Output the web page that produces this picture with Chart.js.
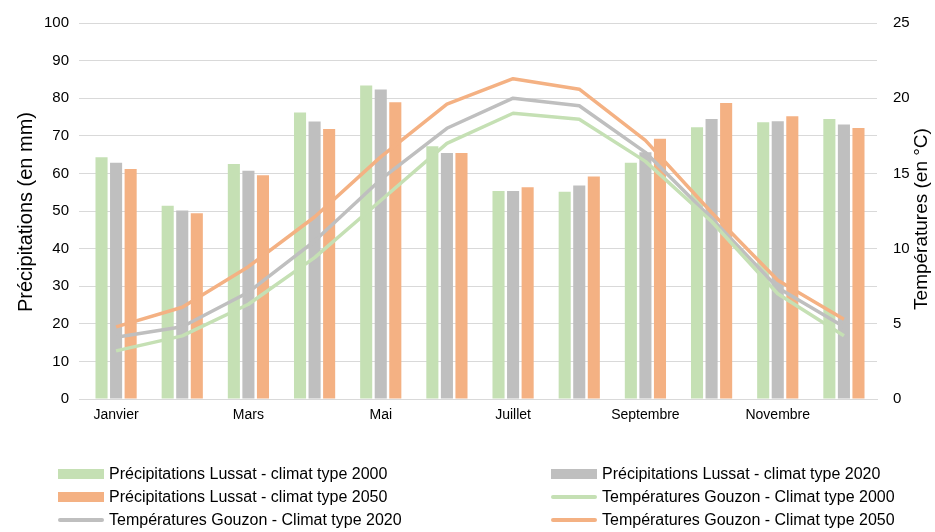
<!DOCTYPE html>
<html lang="fr">
<head>
<meta charset="utf-8">
<script src="https://cdn.jsdelivr.net/npm/chart.js@4"></script>
<style>
  html, body { margin: 0; padding: 0; background: #fff; }
  #wrap { position: relative; width: 935px; height: 532px; }
  #c { position: absolute; left: 0; top: 0; }
  #legend { position: absolute; left: 0; top: 463px; width: 935px; font-family: "Liberation Sans", Arial, sans-serif; font-size: 16px; color: #000; }
  .item { position: absolute; height: 22px; display: flex; align-items: center; white-space: nowrap; }
  .sw { display: inline-block; width: 46px; margin-right: 5px; }
</style>
</head>
<body>
<div id="wrap">
  <canvas id="c" width="935" height="532"></canvas>
  <div id="legend"></div>
</div>
<script>
// Monthly categories
const months = ['Janvier', 'Février', 'Mars', 'Avril', 'Mai', 'Juin', 'Juillet', 'Août', 'Septembre', 'Octobre', 'Novembre', 'Décembre'];

// Précipitations Lussat (mm)
const precip2000 = [64.3, 51.4, 62.5, 76.2, 83.4, 67.2, 55.3, 55.1, 62.8, 72.3, 73.6, 74.5];
const precip2020 = [62.8, 50.1, 60.7, 73.8, 82.3, 65.4, 55.3, 56.8, 65.6, 74.5, 73.9, 73.0];
const precip2050 = [61.2, 49.4, 59.5, 71.8, 78.9, 65.4, 56.3, 59.2, 69.2, 78.7, 75.2, 72.1];

// Températures Gouzon (°C)
const temp2000 = [3.2, 4.2, 6.3, 9.4, 13.2, 17.0, 19.0, 18.6, 15.8, 11.8, 7.0, 4.2];
const temp2020 = [4.1, 4.8, 7.1, 10.5, 14.6, 18.0, 20.0, 19.5, 16.4, 12.0, 7.4, 4.8];
const temp2050 = [4.8, 6.1, 8.8, 12.1, 16.1, 19.6, 21.3, 20.6, 17.2, 12.4, 7.9, 5.3];

// Axis tick bounds
const precipTicks = { min: 0, max: 100, step: 10 };
const tempTicks = { min: 0, max: 25, step: 5 };

const GREEN = '#C5E0B4';
const GREY = '#BFBFBF';
const ORANGE = '#F4B183';
const FONT = "'Liberation Sans', Arial, sans-serif";

function barSet(label, data, color) {
  return { type: 'bar', label, data, backgroundColor: color, borderWidth: 0, yAxisID: 'y', order: 2,
           categoryPercentage: 0.66, barPercentage: 0.83 };
}
function lineSet(label, data, color) {
  return { type: 'line', label, data, borderColor: color, backgroundColor: color, borderWidth: 3.5,
           pointRadius: 0, tension: 0, yAxisID: 'y1', order: 1, borderJoinStyle: 'round' };
}

const datasets = [
  barSet('Précipitations Lussat - climat type 2000', precip2000, GREEN),
  barSet('Précipitations Lussat - climat type 2020', precip2020, GREY),
  barSet('Précipitations Lussat - climat type 2050', precip2050, ORANGE),
  lineSet('Températures Gouzon - Climat type 2000', temp2000, GREEN),
  lineSet('Températures Gouzon - Climat type 2020', temp2020, GREY),
  lineSet('Températures Gouzon - Climat type 2050', temp2050, ORANGE)
];

// Both axis titles read bottom-to-top
const axisTitles = {
  id: 'axisTitles',
  afterDraw(chart) {
    const { ctx, chartArea } = chart;
    const midY = (chartArea.top + chartArea.bottom) / 2;
    const draw = (text, x, y, size) => {
      ctx.save();
      ctx.translate(x, y);
      ctx.rotate(-Math.PI / 2);
      ctx.font = size + 'px ' + FONT;
      ctx.fillStyle = '#000';
      ctx.textAlign = 'center';
      ctx.textBaseline = 'middle';
      ctx.fillText(text, 0, 0);
      ctx.restore();
    };
    draw('Précipitations (en mm)', 26, midY + 1, 20);
    draw('Températures (en °C)', 922, midY + 8, 19);
  }
};

const chart = new Chart(document.getElementById('c'), {
  data: { labels: months, datasets },
  plugins: [axisTitles],
  options: {
    responsive: false,
    animation: false,
    layout: { padding: { top: 23, bottom: 100, left: 0, right: 0 } },
    plugins: { legend: { display: false }, tooltip: { enabled: false } },
    scales: {
      x: {
        grid: { display: false, drawTicks: false },
        border: { color: '#D9D9D9', width: 1 },
        ticks: {
          autoSkip: false, maxRotation: 0, padding: 8,
          color: '#000', font: { family: FONT, size: 14 },
          callback: (v, i) => (i % 2 === 0 ? months[i] : '')
        },
        afterFit: s => { s.height = 33; }
      },
      y: {
        position: 'left',
        min: precipTicks.min, max: precipTicks.max,
        ticks: { stepSize: precipTicks.step, color: '#000', padding: 10, font: { family: FONT, size: 15 } },
        grid: { color: '#D9D9D9', tickLength: 4, tickColor: '#D9D9D9' },
        border: { display: false },
        afterFit: s => { s.width = 83; }
      },
      y1: {
        position: 'right',
        min: tempTicks.min, max: tempTicks.max,
        ticks: { stepSize: tempTicks.step, color: '#000', padding: 12, font: { family: FONT, size: 15 } },
        grid: { display: false, drawOnChartArea: false, tickLength: 4 },
        border: { display: false },
        afterFit: s => { s.width = 58; }
      }
    }
  }
});

// Two-column legend built from the chart's datasets
const legend = document.getElementById('legend');
const colX = [58, 551];
chart.data.datasets.forEach((ds, i) => {
  const item = document.createElement('div');
  item.className = 'item';
  item.style.left = colX[i % 2] + 'px';
  item.style.top = (Math.floor(i / 2) * 23) + 'px';
  const sw = document.createElement('span');
  sw.className = 'sw';
  if (ds.type === 'bar') {
    sw.style.height = '10px';
    sw.style.background = ds.backgroundColor;
  } else {
    sw.style.height = '4px';
    sw.style.borderRadius = '2px';
    sw.style.background = ds.borderColor;
  }
  const tx = document.createElement('span');
  tx.textContent = ds.label;
  item.appendChild(sw);
  item.appendChild(tx);
  legend.appendChild(item);
});
</script>
</body>
</html>
